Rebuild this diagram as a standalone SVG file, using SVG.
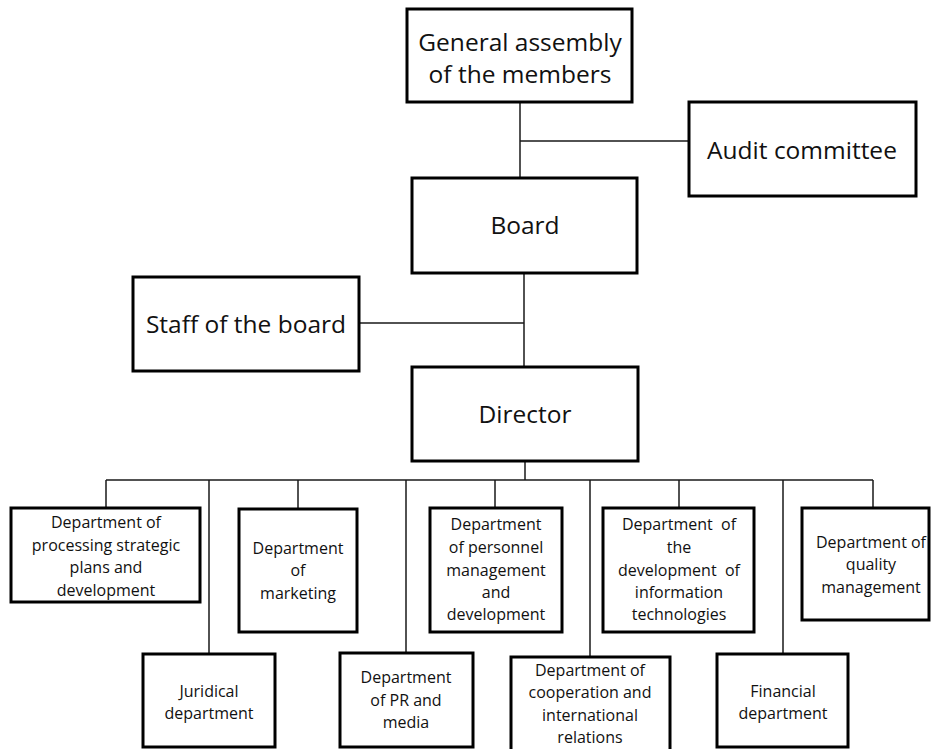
<svg xmlns="http://www.w3.org/2000/svg" width="931" height="749" viewBox="0 0 931 749">
<style>
.box{fill:#fff;stroke:#000;stroke-width:3}
.ln{stroke:#1a1a1a;stroke-width:1.5;fill:none}
text{font-family:"Open Sans","Noto Sans","Liberation Sans",sans-serif;fill:#111;text-anchor:middle}
.big{font-size:24.5px}
.sm{font-size:16px;white-space:pre}
</style>
<rect width="931" height="749" fill="#fff"/>
<g id="connectors">
<path class="ln" d="M520 102V178M520 141H689M524 273V367M359 323H524M525 461V480M106 480H873"/>
<path class="ln" d="M106 480V508M209 480V654M298 480V509M406 480V653M495 480V508M590 480V657M679 480V508M783 480V654M873 480V508"/>
</g>
<g id="general">
<rect class="box" x="407" y="9" width="225" height="93"/>
<text class="big" x="520" y="51">General assembly</text>
<text class="big" x="520" y="83">of the members</text>
</g>
<g id="audit">
<rect class="box" x="689" y="102" width="227" height="94"/>
<text class="big" x="802" y="159">Audit committee</text>
</g>
<g id="board">
<rect class="box" x="412" y="178" width="225" height="95"/>
<text class="big" x="525" y="234">Board</text>
</g>
<g id="staff">
<rect class="box" x="133" y="277" width="226" height="94"/>
<text class="big" x="246" y="333">Staff of the board</text>
</g>
<g id="director">
<rect class="box" x="412" y="367" width="226" height="94"/>
<text class="big" x="525" y="423">Director</text>
</g>
<g id="dept-strategic">
<rect class="box" x="11" y="508" width="189" height="94"/>
<text class="sm" x="106" y="528">Department of</text>
<text class="sm" x="106" y="551">processing strategic</text>
<text class="sm" x="106" y="573">plans and</text>
<text class="sm" x="106" y="596">development</text>
</g>
<g id="dept-juridical">
<rect class="box" x="143" y="654" width="132" height="93"/>
<text class="sm" x="209" y="697">Juridical</text>
<text class="sm" x="209" y="719">department</text>
</g>
<g id="dept-marketing">
<rect class="box" x="239" y="509" width="118" height="123"/>
<text class="sm" x="298" y="554">Department</text>
<text class="sm" x="298" y="576">of</text>
<text class="sm" x="298" y="599">marketing</text>
</g>
<g id="dept-pr">
<rect class="box" x="340" y="653" width="133" height="94"/>
<text class="sm" x="406" y="683">Department</text>
<text class="sm" x="406" y="706">of PR and</text>
<text class="sm" x="406" y="728">media</text>
</g>
<g id="dept-personnel">
<rect class="box" x="430" y="508" width="132" height="124"/>
<text class="sm" x="496" y="530">Department</text>
<text class="sm" x="496" y="553">of personnel</text>
<text class="sm" x="496" y="576">management</text>
<text class="sm" x="496" y="598">and</text>
<text class="sm" x="496" y="620">development</text>
</g>
<g id="dept-cooperation">
<rect class="box" x="511" y="657" width="159" height="96"/>
<text class="sm" x="590" y="676">Department of</text>
<text class="sm" x="590" y="698">cooperation and</text>
<text class="sm" x="590" y="721">international</text>
<text class="sm" x="590" y="743">relations</text>
</g>
<g id="dept-it">
<rect class="box" x="603" y="508" width="151" height="124"/>
<text class="sm" x="679" y="530">Department  of</text>
<text class="sm" x="679" y="553">the</text>
<text class="sm" x="679" y="576">development  of</text>
<text class="sm" x="679" y="598">information</text>
<text class="sm" x="679" y="620">technologies</text>
</g>
<g id="dept-financial">
<rect class="box" x="717" y="654" width="131" height="93"/>
<text class="sm" x="783" y="697">Financial</text>
<text class="sm" x="783" y="719">department</text>
</g>
<g id="dept-quality">
<rect class="box" x="802" y="508" width="127" height="112"/>
<text class="sm" x="871" y="548">Department of</text>
<text class="sm" x="871" y="570">quality</text>
<text class="sm" x="871" y="593">management</text>
</g>
</svg>
